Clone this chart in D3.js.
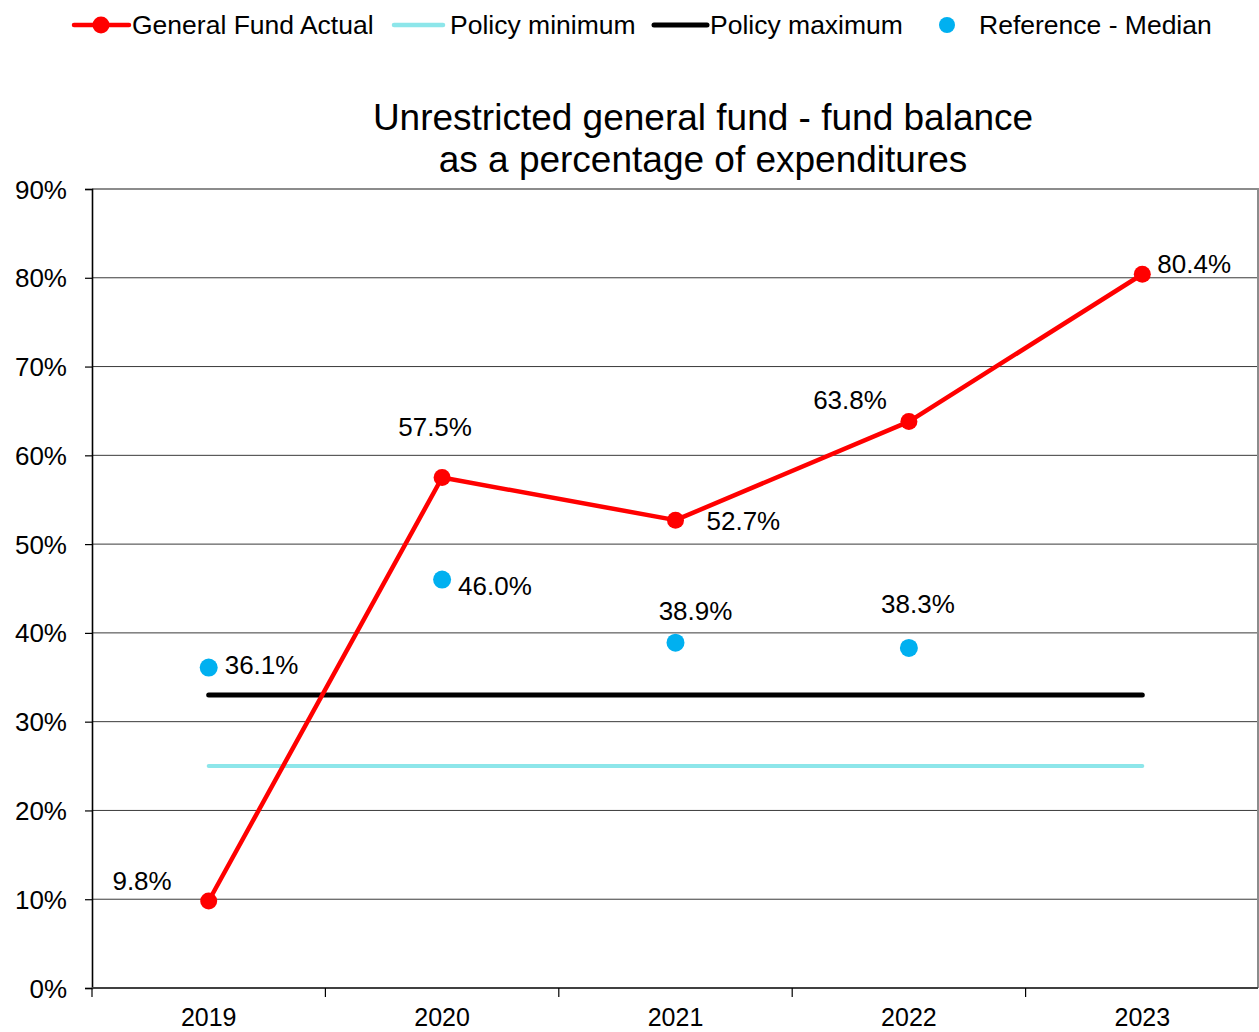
<!DOCTYPE html>
<html>
<head>
<meta charset="utf-8">
<script src="https://cdn.jsdelivr.net/npm/d3@7"></script>
<style>
  html, body { margin: 0; padding: 0; background: #fff; }
  svg { display: block; font-family: "Liberation Sans", Arial, sans-serif; }
</style>
</head>
<body>
<svg id="chart" width="1259" height="1032"></svg>
<script>
// Fiscal years on the category axis
const years = ["2019", "2020", "2021", "2022", "2023"];
// Unrestricted general fund balance as % of expenditures
const actual = [9.8, 57.5, 52.7, 63.8, 80.4];
// Reference group median (no value for 2023)
const median = [36.1, 46.0, 38.9, 38.3, null];
// Reserve policy band
const policyMin = [25, 25, 25, 25, 25];
const policyMax = [33, 33, 33, 33, 33];
// Y axis ticks
const yTicks = [0, 10, 20, 30, 40, 50, 60, 70, 80, 90];

// Label placement around each point: [dx, dy, anchor]
const actualLabelPlace = [[-37, -11, "end"], [-7, -42, "middle"], [31, 10, "start"], [-22, -13, "end"], [15, -1, "start"]];
const medianLabelPlace = [[16, 6, "start"], [16, 15, "start"], [20, -23, "middle"], [9, -35, "middle"], null];

const svg = d3.select("#chart");
const plot = { left: 92, right: 1258, top: 189, bottom: 988 };

const x = d3.scaleBand().domain(years).range([plot.left, plot.right + 1]);
const y = d3.scaleLinear().domain([0, 90]).range([plot.bottom, plot.top]);
const cx = d => x(d) + x.bandwidth() / 2;

// Horizontal gridlines
svg.append("g").selectAll("line")
  .data(yTicks.filter(t => t > 0 && t < 90))
  .join("line")
  .attr("x1", plot.left).attr("x2", plot.right)
  .attr("y1", d => y(d)).attr("y2", d => y(d))
  .attr("stroke", "#3a3a3a").attr("stroke-width", 1);

// Plot frame top and right
svg.append("path")
  .attr("d", `M${plot.left},${y(90)}H${plot.right}V${plot.bottom}`)
  .attr("fill", "none").attr("stroke", "#8c8c8c").attr("stroke-width", 2);

// Y axis
const yAxis = d3.axisLeft(y).tickValues(yTicks).tickSize(7).tickPadding(18)
  .tickFormat(d => d + "%");
const gy = svg.append("g").attr("transform", `translate(${plot.left},0)`).call(yAxis);
gy.select(".domain").attr("stroke", "#000").attr("stroke-width", 1.6);
gy.selectAll(".tick line").attr("stroke", "#000").attr("stroke-width", 1.2);
gy.selectAll(".tick text").attr("font-size", 26).attr("fill", "#000")
  .attr("font-family", "Liberation Sans, Arial, sans-serif").attr("dy", "0.35em");

// X axis: ticks sit on category boundaries, labels centred in each band
const gx = svg.append("g").attr("transform", `translate(0,${plot.bottom})`);
gx.append("line").attr("x1", plot.left).attr("x2", plot.right)
  .attr("stroke", "#404040").attr("stroke-width", 2);
const bounds = years.map(d => x(d));
gx.selectAll("line.tk").data(bounds).join("line").attr("class", "tk")
  .attr("x1", d => d).attr("x2", d => d).attr("y1", 0).attr("y2", 9)
  .attr("stroke", "#000").attr("stroke-width", 1.2);
gx.selectAll("text").data(years).join("text")
  .attr("x", d => cx(d)).attr("y", 38)
  .attr("text-anchor", "middle").attr("font-size", 25).attr("fill", "#000")
  .text(d => d);

// Policy minimum / maximum lines
const flatLine = d3.line().x((d, i) => cx(years[i])).y(d => y(d));
svg.append("path").datum(policyMin).attr("d", flatLine)
  .attr("fill", "none").attr("stroke", "#8de6ea").attr("stroke-width", 4).attr("stroke-linecap", "round");
svg.append("path").datum(policyMax).attr("d", flatLine)
  .attr("fill", "none").attr("stroke", "#000").attr("stroke-width", 5).attr("stroke-linecap", "round");

// Reference median dots
const medPts = median.map((v, i) => ({ v, i })).filter(d => d.v != null);
svg.append("g").selectAll("circle").data(medPts).join("circle")
  .attr("cx", d => cx(years[d.i])).attr("cy", d => y(d.v)).attr("r", 9)
  .attr("fill", "#00b0f0");

// General fund actual line + markers
svg.append("path").datum(actual).attr("d", flatLine)
  .attr("fill", "none").attr("stroke", "#ff0000").attr("stroke-width", 4.5)
  .attr("stroke-linejoin", "round");
svg.append("g").selectAll("circle").data(actual).join("circle")
  .attr("cx", (d, i) => cx(years[i])).attr("cy", d => y(d)).attr("r", 8.5)
  .attr("fill", "#ff0000");

// Value labels
svg.append("g").selectAll("text").data(actual).join("text")
  .attr("x", (d, i) => cx(years[i]) + actualLabelPlace[i][0])
  .attr("y", (d, i) => y(d) + actualLabelPlace[i][1])
  .attr("text-anchor", (d, i) => actualLabelPlace[i][2])
  .attr("font-size", 26).attr("fill", "#000")
  .text(d => d.toFixed(1) + "%");
svg.append("g").selectAll("text").data(medPts).join("text")
  .attr("x", d => cx(years[d.i]) + medianLabelPlace[d.i][0])
  .attr("y", d => y(d.v) + medianLabelPlace[d.i][1])
  .attr("text-anchor", d => medianLabelPlace[d.i][2])
  .attr("font-size", 26).attr("fill", "#000")
  .text(d => d.v.toFixed(1) + "%");

// Title
const title = svg.append("text").attr("text-anchor", "middle").attr("font-size", 37).attr("fill", "#000");
title.append("tspan").attr("x", 703).attr("y", 130).text("Unrestricted general fund - fund balance");
title.append("tspan").attr("x", 703).attr("y", 172).text("as a percentage of expenditures");

// Legend
const leg = svg.append("g").attr("font-size", 26.5).attr("fill", "#000");
const ly = 25;
leg.append("line").attr("x1", 74).attr("x2", 129).attr("y1", ly).attr("y2", ly)
  .attr("stroke", "#ff0000").attr("stroke-width", 4.5).attr("stroke-linecap", "round");
leg.append("circle").attr("cx", 101).attr("cy", ly).attr("r", 8.5).attr("fill", "#ff0000");
leg.append("text").attr("x", 132).attr("y", ly + 9).text("General Fund Actual");
leg.append("line").attr("x1", 394).attr("x2", 443).attr("y1", ly).attr("y2", ly)
  .attr("stroke", "#8de6ea").attr("stroke-width", 4.5).attr("stroke-linecap", "round");
leg.append("text").attr("x", 450).attr("y", ly + 9).text("Policy minimum");
leg.append("line").attr("x1", 654).attr("x2", 707).attr("y1", ly).attr("y2", ly)
  .attr("stroke", "#000").attr("stroke-width", 5).attr("stroke-linecap", "round");
leg.append("text").attr("x", 710).attr("y", ly + 9).text("Policy maximum");
leg.append("circle").attr("cx", 947).attr("cy", ly).attr("r", 8).attr("fill", "#00b0f0");
leg.append("text").attr("x", 979).attr("y", ly + 9).text("Reference - Median");
</script>
</body>
</html>
